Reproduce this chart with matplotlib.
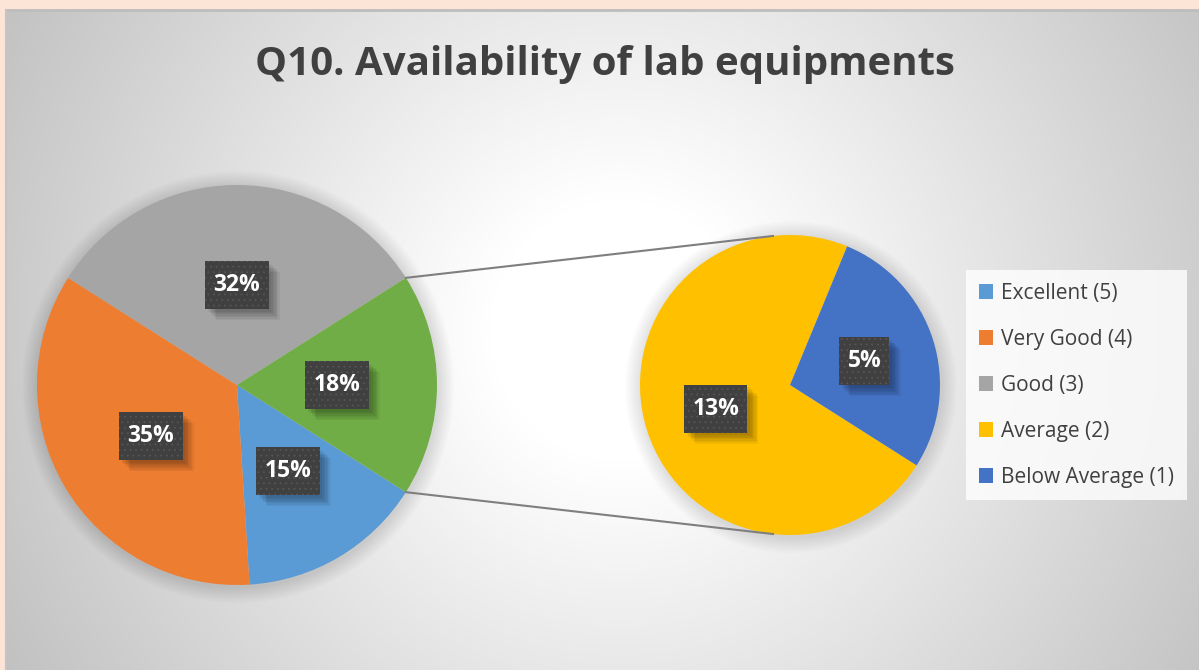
import numpy as np
import matplotlib
matplotlib.use("Agg")
import matplotlib.pyplot as plt
from matplotlib.patches import Circle
from matplotlib.path import Path
import matplotlib.patheffects as pe

# ---------------- data ----------------
title = "Q10. Availability of lab equipments"
categories = ["Excellent (5)", "Very Good (4)", "Good (3)", "Average (2)", "Below Average (1)"]
values = [15, 35, 32, 13, 5]
colors = ["#5B9BD5", "#ED7D31", "#A5A5A5", "#FFC000", "#4472C4"]
other_color = "#70AD47"

main_values = values[:3] + [sum(values[3:])]
main_colors = colors[:3] + [other_color]
sub_values = values[3:]
sub_colors = colors[3:]

plt.rcParams["hatch.linewidth"] = 0.6

# ---------------- figure ----------------
W, H = 1199, 670
fig = plt.figure(figsize=(W / 100, H / 100), dpi=100)
fig.patch.set_facecolor("#FCE4D6")
ax = fig.add_axes([0, 0, 1, 1])

# chart-area background: radial grey gradient
cx0, cy_top = 6, 10
ys, xs = np.mgrid[cy_top:H, cx0:W]
d = np.hypot(xs - 620, ys - 330)
v = np.clip(255 - 0.108 * (d - 130), 188, 255) / 255.0
img = np.dstack([v, v, v])
ax.imshow(img, extent=(cx0, W, 0, H - cy_top), origin="upper", zorder=0, interpolation="bilinear")
ax.plot([cx0, W], [H - cy_top, H - cy_top], color="#BDBDBD", lw=2, zorder=1, solid_capstyle="butt")
ax.plot([cx0, cx0], [0, H - cy_top], color="#C4C4C4", lw=1.5, zorder=1)

# pie geometry (layout)
main_c, main_r = (237, 285), 200
sub_c, sub_r = (790, 285), 150
start = -180.0 * main_values[-1] / sum(main_values)

# soft shadows behind pies
for c, r in [(main_c, main_r), (sub_c, sub_r)]:
    for k in range(10):
        ax.add_patch(Circle((c[0] + 1, c[1] - 2), r + 16 - 1.6 * k, color="black",
                            alpha=0.011, lw=0, zorder=2))

wedges1, _ = ax.pie(main_values, colors=main_colors, startangle=start, counterclock=False,
                    radius=main_r, center=main_c, frame=True, wedgeprops=dict(linewidth=0))
wedges2, _ = ax.pie(sub_values, colors=sub_colors, startangle=start, counterclock=False,
                    radius=sub_r, center=sub_c, frame=True, wedgeprops=dict(linewidth=0))
for w in list(wedges1) + list(wedges2):
    w.set_zorder(3)

# connector lines: from edges of the "other" wedge, tangent to the secondary pie
g = wedges1[-1]
for ang, sign in [(g.theta2, 1), (g.theta1, -1)]:
    a = np.deg2rad(ang)
    px, py = main_c[0] + main_r * np.cos(a), main_c[1] + main_r * np.sin(a)
    dx, dy = px - sub_c[0], py - sub_c[1]
    dist = np.hypot(dx, dy)
    base = np.arctan2(dy, dx)
    t = base - sign * np.arccos(sub_r / dist)
    qx, qy = sub_c[0] + sub_r * np.cos(t), sub_c[1] + sub_r * np.sin(t)
    ax.plot([px, qx], [py, qy], color="#7F7F7F", lw=1.5, zorder=4)


def label_box(x0, y0, width, height, mutation_size):
    px = 0.36 * mutation_size
    py = 0.52 * mutation_size
    verts = [(x0 - px, y0 - py), (x0 + width + px, y0 - py),
             (x0 + width + px, y0 + height + py), (x0 - px, y0 + height + py),
             (x0 - px, y0 - py)]
    return Path(verts, closed=True)


box_effects = ([pe.SimplePatchShadow(offset=(o, -o), shadow_rgbFace="black", alpha=0.05)
                for o in (8, 7, 6, 5, 4, 3, 2)]
               + [pe.Normal(),
                  pe.PathPatchEffect(facecolor="none", edgecolor="#565656", lw=0, hatch="...")])


# data labels
def add_label(wedge, center, r, frac, text):
    mid = np.deg2rad((wedge.theta1 + wedge.theta2) / 2)
    x = center[0] + frac * r * np.cos(mid)
    y = center[1] + frac * r * np.sin(mid)
    t = ax.text(x, y, text, ha="center", va="center", fontsize=16.5, fontweight="bold",
                family="Open Sans", color="white", zorder=6,
                bbox=dict(boxstyle=label_box, fc="#404040", ec="none", lw=0))
    t.get_bbox_patch().set_path_effects(box_effects)


for w, val in zip(wedges1, main_values):
    add_label(w, main_c, main_r, 0.5, f"{val}%")
for w, val in zip(wedges2, sub_values):
    add_label(w, sub_c, sub_r, 0.52, f"{val}%")

# title
fig.text(605 / W, 1 - 64 / H, title, ha="center", va="center", fontsize=29,
         fontweight="bold", family="Open Sans", color="#404040")

# legend
handles = list(wedges1[:3]) + list(wedges2)
leg = ax.legend(handles, categories, loc="center left",
                bbox_to_anchor=(966 / W, 1 - 385 / H), bbox_transform=fig.transFigure,
                prop=dict(family="Open Sans", size=15),
                handlelength=0.7, handleheight=0.7, handletextpad=0.4,
                labelspacing=1.2, frameon=True, fancybox=False, borderpad=0.6,
                borderaxespad=0)
leg.get_frame().set_facecolor((1, 1, 1, 0.12))
leg.get_frame().set_edgecolor("none")
for t in leg.get_texts():
    t.set_color("#404040")
leg.set_zorder(7)

ax.set_aspect("auto")
ax.set_xlim(0, W)
ax.set_ylim(0, H)
ax.axis("off")

fig.savefig("out.png", dpi=100, facecolor=fig.get_facecolor())
